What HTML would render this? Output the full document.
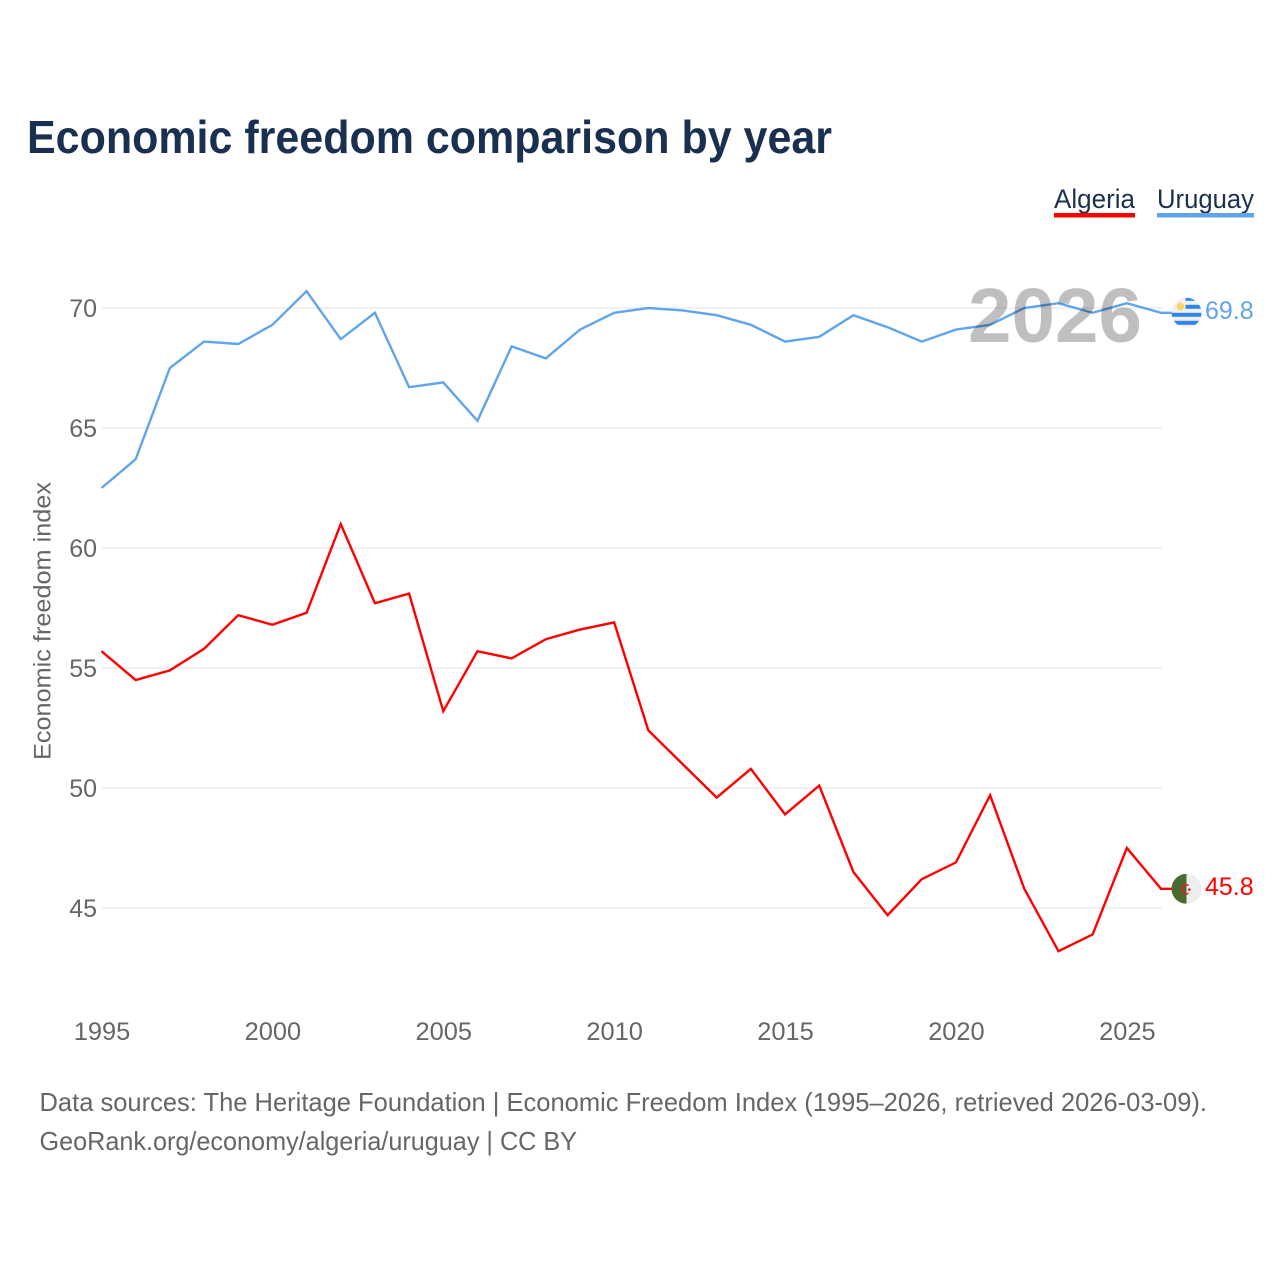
<!DOCTYPE html>
<html lang="en">
<head>
<meta charset="utf-8">
<title>Economic freedom comparison by year</title>
<style>
html,body{margin:0;padding:0;background:#fff;width:1280px;height:1280px;overflow:hidden}
svg{display:block;font-family:"Liberation Sans",sans-serif}
</style>
</head>
<body>
<svg id="chart" xmlns="http://www.w3.org/2000/svg" width="1280" height="1280" viewBox="0 0 1280 1280">
  <defs>
    <clipPath id="flag-clip-uy"><circle cx="0" cy="0" r="15"></circle></clipPath>
    <clipPath id="flag-clip-dz"><circle cx="0" cy="0" r="15"></circle></clipPath>
  </defs>
  <text x="27" y="153" font-size="46" font-weight="700" fill="#1a3050" textLength="805" lengthAdjust="spacingAndGlyphs">Economic freedom comparison by year</text>

  <g>
    <g>
      <text x="1054" y="208" font-size="27" fill="#1a3050" textLength="81" lengthAdjust="spacingAndGlyphs">Algeria</text>
      <rect x="1054" y="213" width="81" height="4.5" fill="#ff0000"></rect>
    </g>
    <g>
      <text x="1157" y="208" font-size="27" fill="#1a3050" textLength="97" lengthAdjust="spacingAndGlyphs">Uruguay</text>
      <rect x="1157" y="213" width="97" height="4.5" fill="#60a5ec"></rect>
    </g>
  </g>

  <g id="grid"></g>
  <g id="yticks"></g>
  <g id="xticks"></g>
  <text transform="translate(50.5,760) rotate(-90)" font-size="24.5" fill="#666666" textLength="278" lengthAdjust="spacingAndGlyphs">Economic freedom index</text>

  <g id="series"></g>

  <text x="1142" y="342" text-anchor="end" font-size="77" font-weight="700" fill="#000000" fill-opacity="0.25" textLength="174" lengthAdjust="spacingAndGlyphs">2026</text>

  <g id="flag-uy">
    <g clip-path="url(#flag-clip-uy)">
      <rect x="-15" y="-15" width="30" height="30" fill="#f0f0f0"></rect>
      <rect x="-1" y="-15" width="16" height="3" fill="#2e86e8"></rect>
      <rect x="-1" y="-8" width="16" height="4" fill="#2e86e8"></rect>
      <rect x="-15" y="0" width="30" height="4" fill="#2e86e8"></rect>
      <rect x="-15" y="8" width="30" height="4" fill="#2e86e8"></rect>
      <circle cx="-6" cy="-6.3" r="3.8" fill="#ffd35c"></circle>
    </g>
  </g>
  <g id="flag-dz">
    <g clip-path="url(#flag-clip-dz)">
      <rect x="-15" y="-15" width="15" height="30" fill="#4a6b30"></rect>
      <rect x="0" y="-15" width="15" height="30" fill="#eeeeee"></rect>
      <path d="M2,-3.4 A4.4 4.4 0 1 0 2,4.4" fill="none" stroke="#e0202c" stroke-width="1.7"></path>
      <polygon points="2.8,-1.2 3.4,0 4.8,0.4 3.6,1.2 3.8,2.6 2.8,1.8 1.8,2.6 2,1.2 0.8,0.4 2.2,0" fill="#e0202c"></polygon>
    </g>
  </g>
  <text id="value-uy" x="1205" y="319" font-size="25" fill="#60a5ec"></text>
  <text id="value-dz" x="1205" y="895" font-size="25" fill="#ff0000"></text>

  <text x="39.5" y="1111" font-size="26" fill="#666666" textLength="1167.5" lengthAdjust="spacingAndGlyphs">Data sources: The Heritage Foundation | Economic Freedom Index (1995–2026, retrieved 2026-03-09).</text>
  <text x="39.5" y="1150" font-size="26" fill="#666666" textLength="537.5" lengthAdjust="spacingAndGlyphs">GeoRank.org/economy/algeria/uruguay | CC BY</text>
</svg>
<script>
const years = [1995,1996,1997,1998,1999,2000,2001,2002,2003,2004,2005,2006,2007,2008,2009,2010,2011,2012,2013,2014,2015,2016,2017,2018,2019,2020,2021,2022,2023,2024,2025,2026];
const algeria = [55.7,54.5,54.9,55.8,57.2,56.8,57.3,61.0,57.7,58.1,53.2,55.7,55.4,56.2,56.6,56.9,52.4,51.0,49.6,50.8,48.9,50.1,46.5,44.7,46.2,46.9,49.7,45.8,43.2,43.9,47.5,45.8];
const uruguay = [62.5,63.7,67.5,68.6,68.5,69.3,70.7,68.7,69.8,66.7,66.9,65.3,68.4,67.9,69.1,69.8,70.0,69.9,69.7,69.3,68.6,68.8,69.7,69.2,68.6,69.1,69.3,70.0,70.2,69.8,70.2,69.8];
const yTicks = [45,50,55,60,65,70];
const xTicks = [1995,2000,2005,2010,2015,2020,2025];

const NS = 'http://www.w3.org/2000/svg';
function xScale(year){ return 101.5 + (year - 1995) * (1161 - 101.5) / 31; }
function yScale(value){ return 308 + (70 - value) * 24; }

const grid = document.getElementById('grid');
const yGroup = document.getElementById('yticks');
yTicks.forEach(function(t){
  const line = document.createElementNS(NS, 'line');
  
  
  line.setAttribute('x1', 102);
  line.setAttribute('x2', 1162);
  line.setAttribute('y1', yScale(t));
  line.setAttribute('y2', yScale(t));
  line.setAttribute('stroke', '#e8e8e8');
  line.setAttribute('stroke-width', '1.3');
  grid.appendChild(line);
  const label = document.createElementNS(NS, 'text');
  
  
  label.setAttribute('x', 97);
  label.setAttribute('y', yScale(t) + 9);
  label.setAttribute('text-anchor', 'end');
  label.setAttribute('font-size', '25');
  label.setAttribute('fill', '#666666');
  label.textContent = t;
  yGroup.appendChild(label);
});

const xGroup = document.getElementById('xticks');
xTicks.forEach(function(t){
  const label = document.createElementNS(NS, 'text');
  
  
  label.setAttribute('x', xScale(t) + 0.5);
  label.setAttribute('y', 1040);
  label.setAttribute('text-anchor', 'middle');
  label.setAttribute('font-size', '25.4');
  label.setAttribute('fill', '#666666');
  label.textContent = t;
  xGroup.appendChild(label);
});

function linePath(values){
  return values.map(function(v, i){
    return (i ? 'L' : 'M') + xScale(years[i]).toFixed(2) + ' ' + yScale(v).toFixed(2);
  }).join(' ') + ' H1172';
}
const seriesGroup = document.getElementById('series');

const algeriaLine = document.createElementNS(NS, 'path');


algeriaLine.setAttribute('d', linePath(algeria));
algeriaLine.setAttribute('fill', 'none');
algeriaLine.setAttribute('stroke', '#ff0000');
algeriaLine.setAttribute('stroke-width', '2.4');
seriesGroup.appendChild(algeriaLine);

const uruguayLine = document.createElementNS(NS, 'path');


uruguayLine.setAttribute('d', linePath(uruguay));
uruguayLine.setAttribute('fill', 'none');
uruguayLine.setAttribute('stroke', '#60a5ec');
uruguayLine.setAttribute('stroke-width', '2.4');
seriesGroup.appendChild(uruguayLine);

const lastUy = uruguay[uruguay.length - 1];
const lastDz = algeria[algeria.length - 1];
document.getElementById('flag-uy').setAttribute('transform', 'translate(1186.5,' + yScale(lastUy) + ')');
document.getElementById('flag-dz').setAttribute('transform', 'translate(1186.5,' + yScale(lastDz) + ')');
const valueUy = document.getElementById('value-uy');
valueUy.setAttribute('y', yScale(lastUy) + 6);
valueUy.textContent = lastUy.toFixed(1);
const valueDz = document.getElementById('value-dz');
valueDz.setAttribute('y', yScale(lastDz) + 6);
valueDz.textContent = lastDz.toFixed(1);
</script>
</body>
</html>
